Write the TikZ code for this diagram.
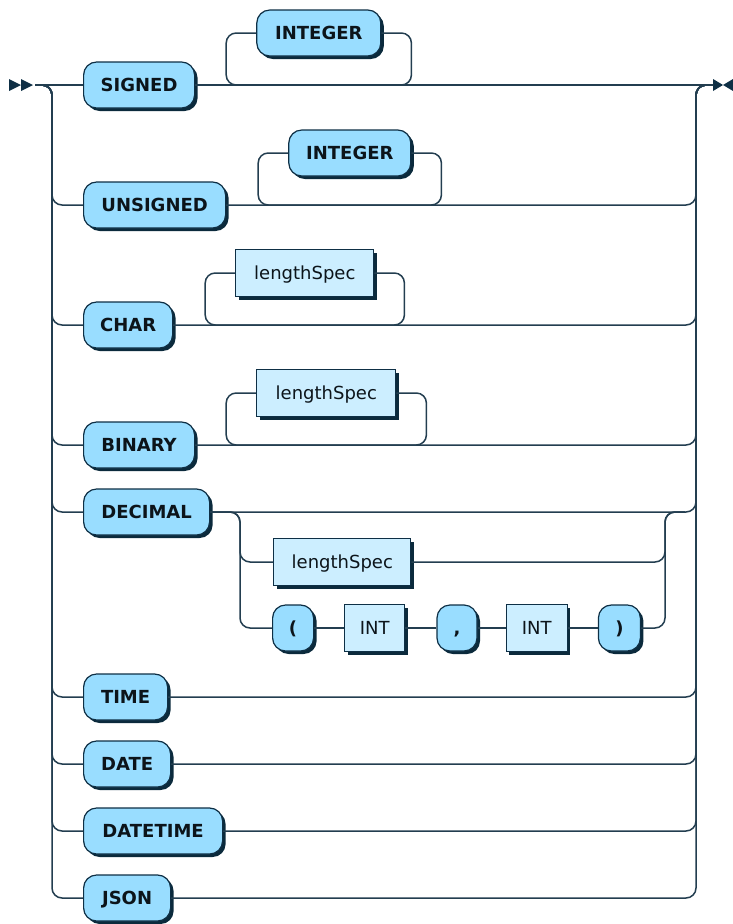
\documentclass[tikz,border=0pt]{standalone}
\usepackage{fontspec}
\setmainfont{DejaVu Sans}
\usetikzlibrary{positioning, shadows}
\definecolor{rrTerm}{HTML}{99DDFF}
\definecolor{rrNonterm}{HTML}{CCEEFF}
\definecolor{rrEdge}{HTML}{0E2F45}
\definecolor{rrShadow}{HTML}{0B2A3C}
\definecolor{rrLine}{HTML}{233E50}
\definecolor{rrText}{HTML}{0C141A}

\begin{document}
\begin{tikzpicture}[
  x=1pt, y=-1pt,
  node distance=30pt,
  term/.style={draw=rrEdge, line width=1.2pt, fill=rrTerm, rounded corners=13pt,
    minimum height=46pt, text height=13pt, text depth=0pt, inner sep=0pt,
    font=\fontsize{18}{20}\selectfont\bfseries, text=rrText,
    drop shadow={shadow xshift=3pt, shadow yshift=-3pt, opacity=1, fill=rrShadow}},
  nonterm/.style={draw=rrEdge, line width=1.2pt, fill=rrNonterm,
    minimum height=47pt, text height=13pt, text depth=0pt, inner sep=0pt,
    font=\fontsize{18}{20}\selectfont, text=rrText,
    drop shadow={shadow xshift=3pt, shadow yshift=-3pt, opacity=1, fill=rrShadow}},
  rail/.style={draw=rrLine, line width=1.5pt, rounded corners=10pt}
]
  \useasboundingbox (0,0) rectangle (733,924);

  % rails
  \coordinate (start) at (35,85);
  \coordinate (stop) at (713,85);
  \coordinate (lrail) at (52,85);
  \coordinate (rrail) at (696,85);
  \coordinate (dsplit) at (240,512);
  \coordinate (djoin) at (665,512);

  \node[term, minimum width=111pt, anchor=west] (signed) at (83,85) {SIGNED};
  \node[term, minimum width=124pt, right=61pt of signed, yshift=52pt] (intA) {INTEGER};
  \node[term, minimum width=142pt, anchor=west] (unsigned) at (83,205) {UNSIGNED};
  \node[term, minimum width=122pt, right=62pt of unsigned, yshift=52pt] (intB) {INTEGER};
  \node[term, minimum width=89pt, anchor=west] (char) at (83,325) {CHAR};
  \node[nonterm, minimum width=138pt, right=62pt of char, yshift=52pt] (lenA) {lengthSpec};
  \node[term, minimum width=111pt, anchor=west] (binary) at (83,445) {BINARY};
  \node[nonterm, minimum width=139pt, right=61pt of binary, yshift=52pt] (lenB) {lengthSpec};
  \node[term, minimum width=126pt, anchor=west] (decimal) at (83,512) {DECIMAL};
  \node[nonterm, minimum width=137pt, right=63pt of decimal, yshift=-50pt] (lenC) {lengthSpec};
  \node[term, minimum width=41pt, anchor=west] (lpar) at (272,628) {(};
  \node[nonterm, minimum width=60pt, right=of lpar] (intC) {INT};
  \node[term, minimum width=40pt, right=31pt of intC] (comma) {,};
  \node[nonterm, minimum width=61pt, right=28pt of comma] (intD) {INT};
  \node[term, minimum width=42pt, right=of intD] (rpar) {)};
  \node[term, minimum width=84pt, anchor=west] (time) at (83,697) {TIME};
  \node[term, minimum width=87pt, anchor=west] (date) at (83,764) {DATE};
  \node[term, minimum width=139pt, anchor=west] (datetime) at (83,831) {DATETIME};
  \node[term, minimum width=87pt, anchor=west] (json) at (83,898) {JSON};

  % start and end marks
  \fill[rrEdge] (9,79) -- (21,85) -- (9,91) -- cycle;
  \fill[rrEdge] (21,79) -- (33,85) -- (21,91) -- cycle;
  \fill[rrEdge] (713,79) -- (723,85) -- (713,91) -- cycle;
  \fill[rrEdge] (733,79) -- (723,85) -- (733,91) -- cycle;

  \draw[rail] (start) -- (signed.west);
  \draw[rail] (signed.east) -- (stop);
  \foreach \n in {unsigned, char, binary, decimal, time, date, datetime, json} {
    \draw[rail] (start) -- (lrail) |- (\n.west);
    \draw[rail] (\n.east) -| (rrail) -- (stop);
  }
  \foreach \n in {intA, intB, lenA, lenB}
    \draw[rail] (\n.west) -- ++(-30,0) -- ++(0,52) -| ([xshift=30pt]\n.east) -- (\n.east);

  \draw[rail] (decimal.east) -- (dsplit) |- (lenC.west);
  \draw[rail] (decimal.east) -- (dsplit) |- (lpar.west);
  \draw[rail] (lenC.east) -| (djoin) -- ++(20,0);
  \draw[rail] (rpar.east) -| (djoin) -- ++(20,0);
  \draw[rail] (lpar) -- (intC) -- (comma) -- (intD) -- (rpar);
\end{tikzpicture}
\end{document}
